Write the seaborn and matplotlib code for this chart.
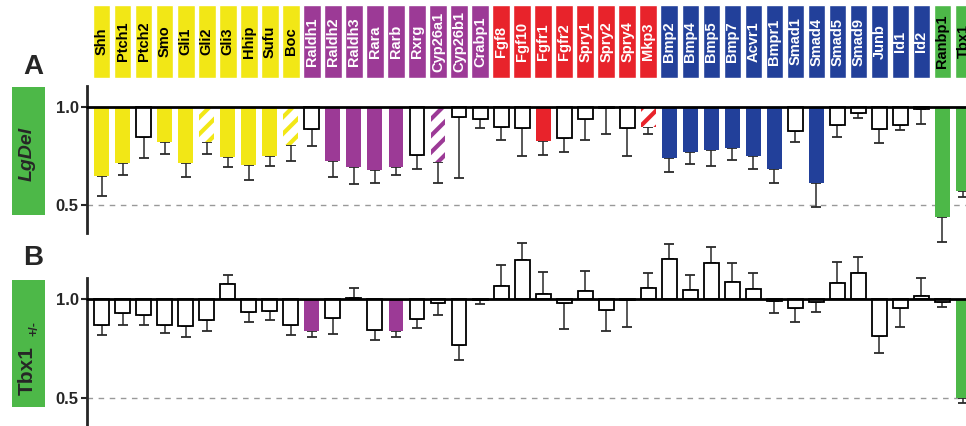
import numpy as np
import pandas as pd
import matplotlib
matplotlib.use("Agg")
import matplotlib.pyplot as plt
from matplotlib.ticker import FuncFormatter
import seaborn as sns

# genes and pathway groups
genes = ["Shh", "Ptch1", "Ptch2", "Smo", "Gli1", "Gli2", "Gli3", "Hhip", "Sufu", "Boc",
         "Raldh1", "Raldh2", "Raldh3", "Rara", "Rarb", "Rxrg", "Cyp26a1", "Cyp26b1", "Crabp1",
         "Fgf8", "Fgf10", "Fgfr1", "Fgfr2", "Spry1", "Spry2", "Spry4", "Mkp3",
         "Bmp2", "Bmp4", "Bmp5", "Bmp7", "Acvr1", "Bmpr1", "Smad1", "Smad4", "Smad5",
         "Smad9", "Junb", "Id1", "Id2",
         "Ranbp1", "Tbx1"]
groups = ["shh"] * 10 + ["ra"] * 9 + ["fgf"] * 8 + ["bmp"] * 13 + ["del"] * 2

# relative expression (mutant / wild type) and SEM
lgdel_val = [0.647, 0.712, 0.847, 0.819, 0.712, 0.819, 0.746, 0.703, 0.751, 0.805,
             0.886, 0.724, 0.692, 0.678, 0.695, 0.753, 0.717, 0.949, 0.941,
             0.898, 0.893, 0.827, 0.842, 0.937, 0.997, 0.893, 0.898,
             0.741, 0.771, 0.780, 0.793, 0.749, 0.681, 0.876, 0.610, 0.907,
             0.969, 0.886, 0.910, 0.992,
             0.437, 0.571]
lgdel_sem = [0.101, 0.059, 0.105, 0.061, 0.068, 0.061, 0.054, 0.078, 0.053, 0.080,
             0.086, 0.080, 0.087, 0.068, 0.042, 0.067, 0.107, 0.313, 0.048,
             0.064, 0.144, 0.073, 0.071, 0.103, 0.133, 0.144, 0.037,
             0.072, 0.063, 0.082, 0.064, 0.063, 0.067, 0.057, 0.118, 0.060,
             0.023, 0.069, 0.029, 0.080,
             0.126, 0.032]
# f = significant (filled), o = not significant, h = hatched
lgdel_sig = list("ffoffhfffh" + "offffohoo" + "oofooooh" + "ffffffofooooo" + "ff")

tbx1_val = [0.871, 0.928, 0.919, 0.871, 0.864, 0.894, 1.076, 0.935, 0.940, 0.871,
            0.841, 0.903, 1.004, 0.844, 0.836, 0.901, 0.982, 0.767, 0.995,
            1.065, 1.196, 1.023, 0.982, 1.042, 0.945, 0.996, 1.057,
            1.200, 1.045, 1.183, 1.087, 1.049, 0.990, 0.956, 0.983, 1.079,
            1.133, 0.814, 0.953, 1.017,
            0.983, 0.500]
tbx1_sem = [0.054, 0.061, 0.052, 0.044, 0.057, 0.058, 0.043, 0.049, 0.046, 0.054,
            0.031, 0.081, 0.053, 0.050, 0.026, 0.049, 0.063, 0.074, 0.022,
            0.106, 0.089, 0.111, 0.135, 0.101, 0.104, 0.139, 0.074,
            0.077, 0.074, 0.077, 0.093, 0.080, 0.062, 0.070, 0.050, 0.109,
            0.077, 0.087, 0.096, 0.087,
            0.025, 0.025]
tbx1_sig = list("oooooooooo" + "fooofoooo" + "oooooooo" + "ooooooooooooo" + "of")

group_colors = {"shh": "#F2E716", "ra": "#9C3A96", "fgf": "#E8232B",
                "bmp": "#22409A", "del": "#4DB848"}
dark_text = {"shh": True, "ra": False, "fgf": False, "bmp": False, "del": True}

sns.set_style("white")
plt.rcParams["font.family"] = ["Liberation Sans", "DejaVu Sans"]
plt.rcParams["hatch.linewidth"] = 3.0

W, H = 966, 426
fig = plt.figure(figsize=(W / 100, H / 100), dpi=100)
n = len(genes)
xl = (-0.70, 41.12)
left = 87 / W


def panel(ax, vals, sems, sig, ylim):
    df = pd.DataFrame({"gene": genes, "dev": np.array(vals) - 1.0})
    pal = {}
    for g, grp, s in zip(genes, groups, sig):
        pal[g] = group_colors[grp] if s == "f" else "white"
    sns.barplot(data=df, x="gene", y="dev", hue="gene", palette=pal, legend=False,
                width=0.71, errorbar=None, ax=ax, zorder=2)
    bars = sorted(ax.patches, key=lambda p: p.get_x())
    for p, grp, s in zip(bars, groups, sig):
        p.set_clip_on(False)
        if s == "o":
            p.set_facecolor("white")
            p.set_edgecolor("black")
            p.set_linewidth(1.3)
        elif s == "h":
            p.set_facecolor("white")
            p.set_edgecolor(group_colors[grp])
            p.set_hatch("//")
            p.set_linewidth(0)
        else:
            p.set_facecolor(group_colors[grp])
            p.set_linewidth(0)
    dev = df["dev"].to_numpy()
    sems = np.array(sems)
    lo = np.where(dev < 0, sems, 0)
    hi = np.where(dev >= 0, sems, 0)
    eb = ax.errorbar(np.arange(n), dev, yerr=[lo, hi], fmt="none", ecolor="#2a2a2a",
                     elinewidth=1.1, capsize=3.5, capthick=1.3, zorder=1)
    for c in eb.lines[1]:
        c.set_clip_on(False)
    for c in eb.lines[2]:
        c.set_clip_on(False)
    ax.axhline(0, color="black", lw=2.0, zorder=4, clip_on=False)
    ax.axhline(-0.5, color="#999999", lw=1.0, ls=(0, (4, 4)), zorder=0)
    ax.set_xlim(*xl)
    ax.set_ylim(*ylim)
    ax.set_yticks([0, -0.5])
    ax.yaxis.set_major_formatter(FuncFormatter(lambda v, _: f"{v + 1:.1f}"))
    ax.tick_params(axis="y", left=True, direction="out", length=4, width=1.5,
                   pad=2, labelsize=12)
    for t in ax.get_yticklabels():
        t.set_fontweight("bold")
    ax.set_xticks([])
    ax.set_xlabel("")
    ax.set_ylabel("")
    sns.despine(ax=ax, top=True, right=True, bottom=True)
    ax.spines["left"].set_linewidth(2.0)
    ax.patch.set_alpha(0)


axA = fig.add_axes([left, (H - 233) / H, 1 - left, 147 / H])
panel(axA, lgdel_val, lgdel_sem, lgdel_sig, (-0.643, 0.107))

axB = fig.add_axes([left, 0, 1 - left, 148 / H])
panel(axB, tbx1_val, tbx1_sem, tbx1_sig, (-0.641, 0.106))

# gene name boxes along the top
axT = fig.add_axes([left, (H - 78) / H, 1 - left, 73 / H])
axT.bar(np.arange(n), 1, width=0.83, color=[group_colors[g] for g in groups])
for i, (g, grp) in enumerate(zip(genes, groups)):
    axT.text(i, 0.5, g, rotation=90, ha="center", va="center", fontsize=10.5,
             fontweight="bold", color="black" if dark_text[grp] else "white")
axT.set_xlim(*xl)
axT.set_ylim(0, 1)
axT.axis("off")

# row labels
green = group_colors["del"]
boxA = fig.add_axes([12 / W, (H - 215) / H, 33 / W, 128 / H])
boxA.set_facecolor(green)
boxA.set_xticks([])
boxA.set_yticks([])
for s in boxA.spines.values():
    s.set_visible(False)
boxA.text(0.45, 0.48, "LgDel", rotation=90, ha="center", va="center", fontsize=14,
          fontweight="bold", fontstyle="italic", transform=boxA.transAxes)

boxB = fig.add_axes([12 / W, (H - 407) / H, 33 / W, 127 / H])
boxB.set_facecolor(green)
boxB.set_xticks([])
boxB.set_yticks([])
for s in boxB.spines.values():
    s.set_visible(False)
boxB.text(0.47, 0.29, "Tbx1", rotation=90, ha="center", va="center", fontsize=15,
          fontweight="bold", transform=boxB.transAxes)
boxB.text(0.68, 0.62, "+/-", rotation=90, ha="center", va="center", fontsize=9,
          fontweight="bold", transform=boxB.transAxes)

fig.text(33 / W, 1 - 67 / H, "A", ha="center", va="center", fontsize=20, fontweight="bold")
fig.text(33 / W, 1 - 258 / H, "B", ha="center", va="center", fontsize=20, fontweight="bold")

fig.savefig("out.png", dpi=100)
